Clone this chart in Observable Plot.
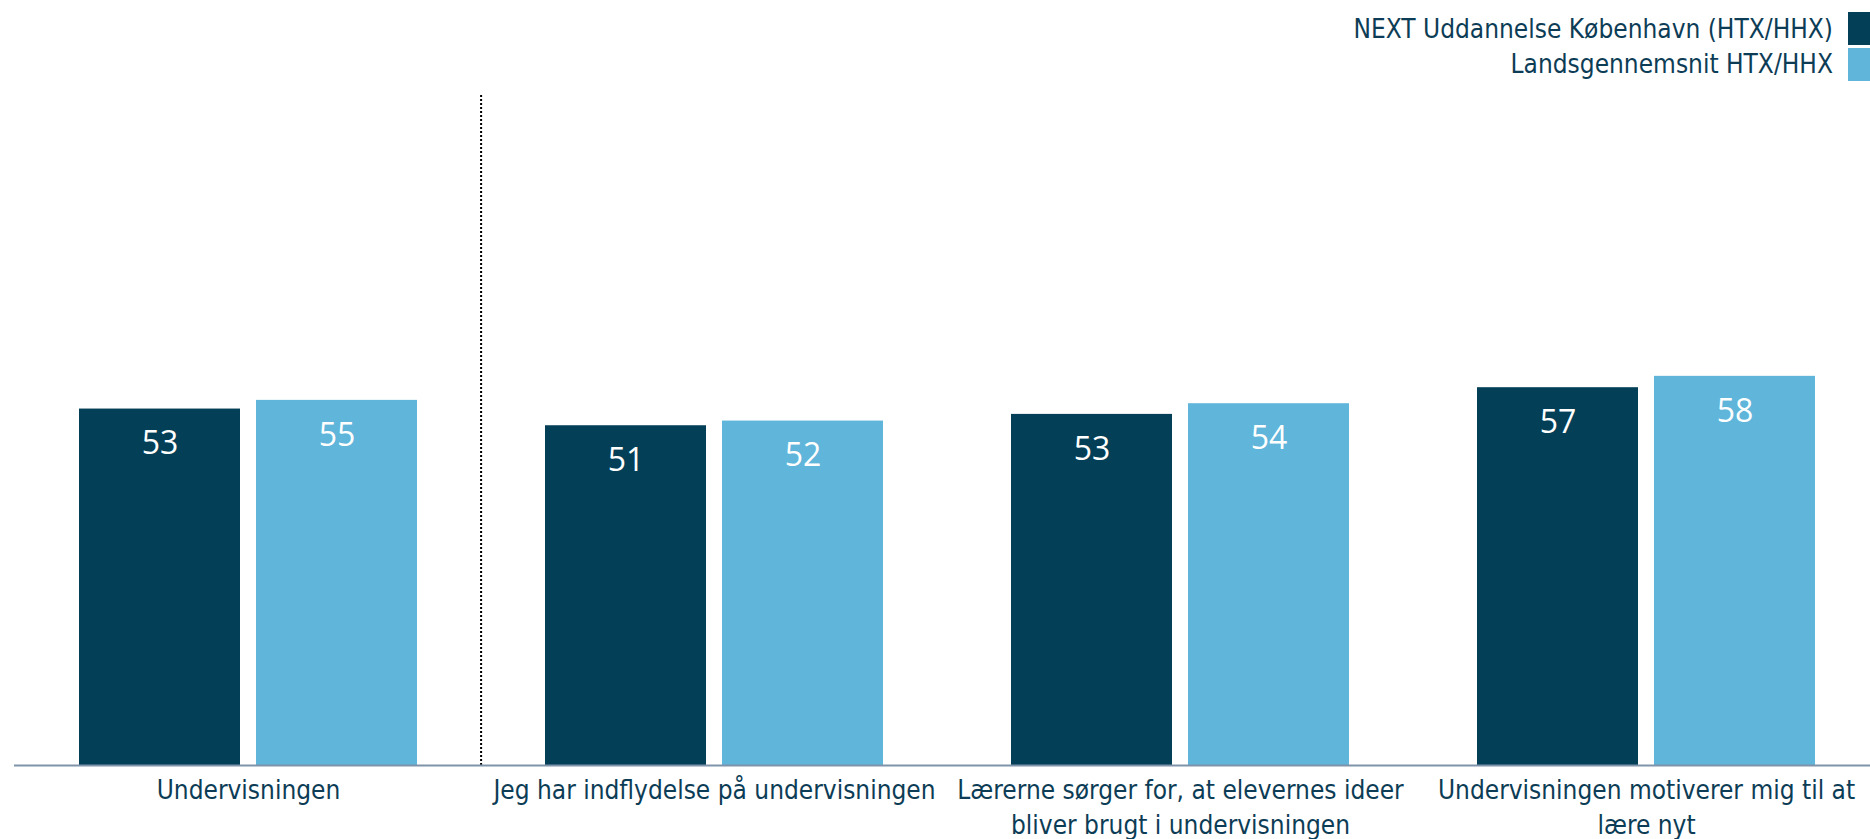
<!DOCTYPE html>
<html>
<head>
<meta charset="utf-8">
<script src="https://cdn.jsdelivr.net/npm/d3@7"></script>
<script src="https://cdn.jsdelivr.net/npm/@observablehq/plot@0.6"></script>
<style>
  html, body { margin: 0; padding: 0; background: #ffffff; }
  body { width: 1870px; height: 839px; overflow: hidden; font-family: "DejaVu Sans Condensed", "DejaVu Sans", sans-serif; }
  #legend { position: relative; height: 90px; width: 1870px; }
  .lg-row { position: absolute; right: 0; display: flex; align-items: center; color: #0d3d56; font-size: 26px; }
  .lg-row .sw { width: 22px; margin-left: 15px; }
  #chart svg { display: block; }
</style>
</head>
<body>
<div id="legend"></div>
<div id="chart"></div>
<script>
const categories = [
  "Undervisningen",
  "Jeg har indflydelse på undervisningen",
  "Lærerne sørger for, at elevernes ideer bliver brugt i undervisningen",
  "Undervisningen motiverer mig til at lære nyt"
];
const tickLabels = [
  "Undervisningen",
  "Jeg har indflydelse på undervisningen",
  "Lærerne sørger for, at elevernes ideer\nbliver brugt i undervisningen",
  "Undervisningen motiverer mig til at\nlære nyt"
];
const seriesNames = ["NEXT Uddannelse København (HTX/HHX)", "Landsgennemsnit HTX/HHX"];
const nextValues = [53.4, 50.9, 52.6, 56.6];
const landsValues = [54.7, 51.6, 54.2, 58.3];
const seriesColors = ["#033f57", "#5fb5da"];
const textColor = "#0d3d56";

// legend
const legend = document.getElementById("legend");
const legendTops = [12, 47.5];
seriesNames.forEach((name, i) => {
  const row = document.createElement("div");
  row.className = "lg-row";
  row.style.top = legendTops[i] + "px";
  const t = document.createElement("span");
  t.textContent = name;
  const sw = document.createElement("span");
  sw.className = "sw";
  sw.style.height = "33px";
  sw.style.background = seriesColors[i];
  row.appendChild(t);
  row.appendChild(sw);
  legend.appendChild(row);
});

const rowsNext = categories.map((c, i) => ({category: c, value: nextValues[i]}));
const rowsLands = categories.map((c, i) => ({category: c, value: landsValues[i]}));
const labelOf = new Map(categories.map((c, i) => [c, tickLabels[i]]));
const fmt = d3.format(".0f");

const chart = Plot.plot({
  width: 1870,
  height: 749,
  marginTop: 7.5,
  marginBottom: 74,
  marginLeft: 14,
  marginRight: 0,
  x: {domain: categories, range: [14, 1881.2], paddingInner: 0.2738, paddingOuter: 0.1369, label: null},
  y: {domain: [0, 100], range: [675, 7.5], axis: null},
  marks: [
    Plot.barY(rowsNext, {x: "category", y: "value", fill: seriesColors[0], insetRight: 177}),
    Plot.barY(rowsLands, {x: "category", y: "value", fill: seriesColors[1], insetLeft: 177}),
    Plot.text(rowsNext, {x: "category", y: "value", text: d => fmt(d.value), dx: -88.5, dy: 35,
      fill: "#ffffff", fontSize: 32, fontFamily: "Open Sans"}),
    Plot.text(rowsLands, {x: "category", y: "value", text: d => fmt(d.value), dx: 88.5, dy: 35,
      fill: "#ffffff", fontSize: 32, fontFamily: "Open Sans"}),
    Plot.ruleX([categories[1]], {x: d => d, dx: -233.4, y1: 0, y2: 100.5, stroke: "#000000",
      strokeWidth: 2, strokeDasharray: "2,2"}),
    Plot.ruleY([0], {stroke: "#7f93aa", strokeWidth: 2}),
    Plot.axisX({tickSize: 0, tickPadding: 9.5, fontSize: 26, fontFamily: "DejaVu Sans Condensed",
      color: textColor, lineHeight: 1.32, label: null, tickFormat: d => labelOf.get(d)})
  ]
});
document.getElementById("chart").appendChild(chart);
</script>
</body>
</html>
